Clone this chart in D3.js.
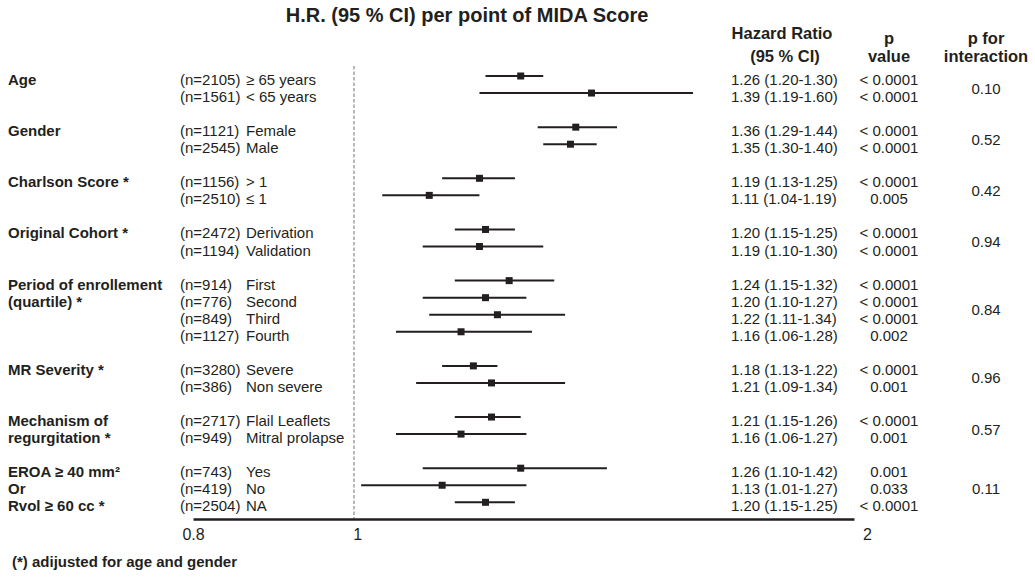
<!DOCTYPE html>
<html lang="en">
<head>
    <meta charset="UTF-8">
    <title>MIDA Score subgroup forest plot</title>
    <script src="https://d3js.org/d3.v7.min.js"></script>
    <style>
        body {
            margin: 0;
            padding: 0;
            background: #fff;
        }
        svg {
            display: block;
            font-family: "Liberation Sans", Arial, sans-serif;
        }
        .title {
            font-size: 20px;
            font-weight: bold;
            fill: #231f20;
            text-anchor: middle;
        }
        .header {
            font-size: 16.5px;
            font-weight: bold;
            fill: #231f20;
            text-anchor: middle;
        }
        .group-label {
            font-size: 15px;
            font-weight: bold;
            fill: #231f20;
        }
        .row-text {
            font-size: 15px;
            fill: #231f20;
        }
        .ci {
            stroke: #231f20;
            stroke-width: 2;
        }
        .point {
            fill: #231f20;
        }
        .ref-line {
            stroke: #8a8a8a;
            stroke-width: 1.2;
            stroke-dasharray: 3.5 2;
        }
        .x-axis path {
            stroke: #231f20;
            stroke-width: 2.5;
        }
        .x-axis text {
            font-family: "Liberation Sans", Arial, sans-serif;
            font-size: 16px;
            fill: #231f20;
        }
        .footnote {
            font-size: 15px;
            font-weight: bold;
            fill: #231f20;
        }
    </style>
</head>
<body>
    <svg id="chart" width="1035" height="583"></svg>

    <script>
        // subgroup data
        const groupLabels = [
            ['Age'],
            ['Gender'],
            ['Charlson Score *'],
            ['Original Cohort *'],
            ['Period of enrollement', '(quartile) *'],
            ['MR Severity *'],
            ['Mechanism of', 'regurgitation *'],
            ['EROA \u2265 40 mm\u00b2', 'Or', 'Rvol \u2265 60 cc *']
        ];
        const subgroupGroup = [0, 0, 1, 1, 2, 2, 3, 3, 4, 4, 4, 4, 5, 5, 6, 6, 7, 7, 7];
        const subgroupN = [2105, 1561, 1121, 2545, 1156, 2510, 2472, 1194, 914, 776, 849, 1127, 3280, 386, 2717, 949, 743, 419, 2504];
        const subgroupNames = ['\u2265 65 years', '< 65 years', 'Female', 'Male', '> 1', '\u2264 1',
            'Derivation', 'Validation', 'First', 'Second', 'Third', 'Fourth',
            'Severe', 'Non severe', 'Flail Leaflets', 'Mitral prolapse', 'Yes', 'No', 'NA'];
        const hr = [1.26, 1.39, 1.36, 1.35, 1.19, 1.11, 1.20, 1.19, 1.24, 1.20, 1.22, 1.16, 1.18, 1.21, 1.21, 1.16, 1.26, 1.13, 1.20];
        const ciLow = [1.20, 1.19, 1.29, 1.30, 1.13, 1.04, 1.15, 1.10, 1.15, 1.10, 1.11, 1.06, 1.13, 1.09, 1.15, 1.06, 1.10, 1.01, 1.15];
        const ciHigh = [1.30, 1.60, 1.44, 1.40, 1.25, 1.19, 1.25, 1.30, 1.32, 1.27, 1.34, 1.28, 1.22, 1.34, 1.26, 1.27, 1.42, 1.27, 1.25];
        const pValues = ['< 0.0001', '< 0.0001', '< 0.0001', '< 0.0001', '< 0.0001', '0.005',
            '< 0.0001', '< 0.0001', '< 0.0001', '< 0.0001', '< 0.0001', '0.002',
            '< 0.0001', '0.001', '< 0.0001', '0.001', '0.001', '0.033', '< 0.0001'];
        const pInteraction = ['0.10', '0.52', '0.42', '0.94', '0.84', '0.96', '0.57', '0.11'];
        const axisTicks = [0.8, 1, 2];

        const svg = d3.select('#chart');

        // one empty row between groups
        const rows = hr.map((d, i) => ({
            i,
            row: i + subgroupGroup[i],
            group: subgroupGroup[i],
            n: subgroupN[i],
            name: subgroupNames[i],
            hr: d,
            lo: ciLow[i],
            hi: ciHigh[i],
            p: pValues[i]
        }));
        const lastRow = d3.max(rows, d => d.row);

        const x = d3.scaleLog().domain([0.8, 2]).range([193, 854]);
        // tick labels in the original sit a little right of the plotted scale
        const xLabel = x.copy().range([193, 867]);
        const y = d3.scaleLinear().domain([0, lastRow]).range([76, 502.3]);
        const axisY = 519;
        const textDy = '0.6em';

        // title and column headers
        svg.append('text').attr('class', 'title')
            .attr('x', 467).attr('y', 22)
            .text('H.R. (95 % CI) per point of MIDA Score');

        const headers = [
            { text: 'Hazard Ratio', x: 782, y: 38.5 },
            { text: '(95 % CI)', x: 785, y: 61.5 },
            { text: 'p', x: 889, y: 43.5 },
            { text: 'value', x: 889, y: 61.5 },
            { text: 'p for', x: 986, y: 44 },
            { text: 'interaction', x: 986, y: 62 }
        ];
        svg.selectAll('.header').data(headers).enter()
            .append('text').attr('class', 'header')
            .attr('x', d => d.x).attr('y', d => d.y)
            .text(d => d.text);

        // reference line at HR = 1
        svg.append('line').attr('class', 'ref-line')
            .attr('x1', x(1)).attr('x2', x(1))
            .attr('y1', y(0) - 10).attr('y2', axisY);

        // group labels on the left
        groupLabels.forEach((lines, g) => {
            const firstRow = d3.min(rows.filter(d => d.group === g), d => d.row);
            svg.append('g').selectAll('text').data(lines).enter()
                .append('text').attr('class', 'group-label')
                .attr('x', 8)
                .attr('y', (d, k) => y(firstRow + k))
                .attr('dy', textDy)
                .text(d => d);
        });

        // subgroup text columns
        const rowG = svg.append('g').selectAll('g').data(rows).enter().append('g');
        rowG.append('text').attr('class', 'row-text')
            .attr('x', 180).attr('y', d => y(d.row)).attr('dy', textDy)
            .text(d => `(n=${d.n})`);
        rowG.append('text').attr('class', 'row-text')
            .attr('x', 246).attr('y', d => y(d.row)).attr('dy', textDy)
            .text(d => d.name);
        rowG.append('text').attr('class', 'row-text')
            .attr('x', 731).attr('y', d => y(d.row)).attr('dy', textDy)
            .text(d => `${d.hr.toFixed(2)} (${d.lo.toFixed(2)}-${d.hi.toFixed(2)})`);
        rowG.append('text').attr('class', 'row-text')
            .attr('x', 889).attr('y', d => y(d.row)).attr('dy', textDy)
            .attr('text-anchor', 'middle')
            .text(d => d.p);

        // p for interaction, centred on each group
        svg.append('g').selectAll('text').data(pInteraction).enter()
            .append('text').attr('class', 'row-text')
            .attr('x', 986)
            .attr('y', (d, g) => y(d3.mean(rows.filter(r => r.group === g), r => r.row)))
            .attr('dy', textDy)
            .attr('text-anchor', 'middle')
            .text(d => d);

        // confidence intervals and point estimates
        rowG.append('line').attr('class', 'ci')
            .attr('x1', d => x(d.lo)).attr('x2', d => x(d.hi))
            .attr('y1', d => y(d.row)).attr('y2', d => y(d.row));
        const sq = 7;
        rowG.append('rect').attr('class', 'point')
            .attr('x', d => x(d.hr) - sq / 2).attr('y', d => y(d.row) - sq / 2)
            .attr('width', sq).attr('height', sq);

        // x axis
        svg.append('g').attr('class', 'x-axis')
            .attr('transform', `translate(0,${axisY})`)
            .call(d3.axisBottom(x).tickValues(axisTicks).tickSize(0).tickPadding(10)
                .tickFormat(d3.format('')))
            .selectAll('.tick text')
            .attr('dx', d => xLabel(d) - x(d));

        svg.append('text').attr('class', 'footnote')
            .attr('x', 12).attr('y', 567)
            .text('(*) adijusted for age and gender');
    </script>
</body>
</html>
